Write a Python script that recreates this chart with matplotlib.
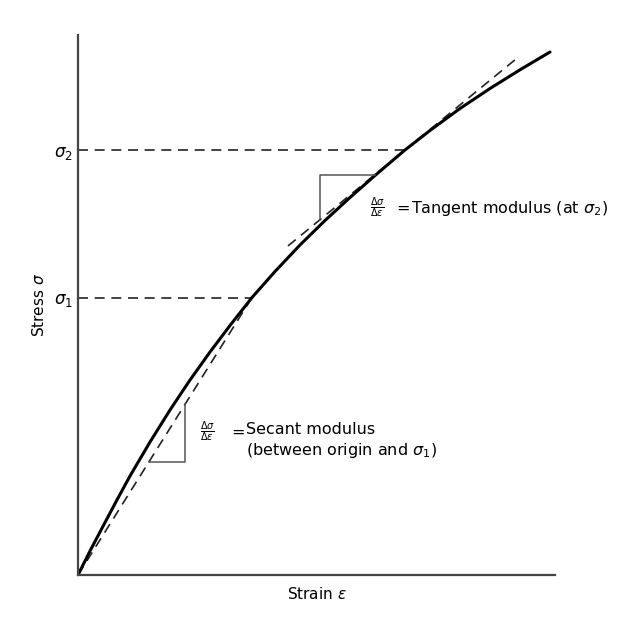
import matplotlib
matplotlib.use("Agg")
import matplotlib.pyplot as plt
import numpy as np

# stress-strain curve (arbitrary units)
strain = [0, 0.12, 0.27, 0.40, 0.52, 0.72, 0.92, 1.12, 1.32, 1.52, 1.74,
          1.97, 2.22, 2.47, 2.72, 2.97, 3.27, 3.52, 3.82, 4.12, 4.42, 4.72]
stress = [0, 0.24, 0.525, 0.77, 0.99, 1.33, 1.65, 1.95, 2.23, 2.495, 2.775,
          3.035, 3.30, 3.545, 3.775, 3.995, 4.25, 4.445, 4.665, 4.865, 5.052, 5.23]

eps1, sigma1 = 1.74, 2.775     # secant point
eps2, sigma2 = 3.27, 4.25      # tangent point
tangent_slope = 0.82
tangent_span = [2.10, 4.40]    # strain range of the dashed tangent

tick_labels = [r"$\sigma_1$", r"$\sigma_2$"]

fig = plt.figure(figsize=(6.29, 6.19), dpi=100)
ax = fig.add_axes([78 / 629, 44 / 619, 477 / 629, 540 / 619])
ax.set_xlim(0, 4.77)
ax.set_ylim(0, 5.40)

for side in ["top", "right"]:
    ax.spines[side].set_visible(False)
for side in ["left", "bottom"]:
    ax.spines[side].set_color("#444444")
    ax.spines[side].set_linewidth(1.6)

ax.set_xticks([])
ax.set_yticks([sigma1, sigma2])
ax.set_yticklabels(tick_labels, fontsize=12)
ax.tick_params(axis="y", length=0, pad=4)

ax.set_xlabel(r"Strain $\epsilon$", fontsize=11, labelpad=8)
ax.set_ylabel(r"Stress $\sigma$", fontsize=11, labelpad=5)

dash = dict(color="#222222", lw=1.2, linestyle=(0, (6, 4)))

# guide lines to the two stress levels
ax.plot([0, eps1], [sigma1, sigma1], **dash)
ax.plot([0, eps2], [sigma2, sigma2], **dash)

# secant from origin
ax.plot([0, eps1], [0, sigma1], **dash)

# tangent at sigma2
tx = np.array(tangent_span)
ax.plot(tx, sigma2 + tangent_slope * (tx - eps2), **dash)

# main curve
ax.plot(strain, stress, color="black", lw=2.2, solid_capstyle="round",
        solid_joinstyle="round")

# little slope triangles
secant_slope = sigma1 / eps1
s_lo, s_right = 1.13, 1.07
ax.plot([s_lo / secant_slope, s_right, s_right],
        [s_lo, s_lo, secant_slope * s_right], color="#555555", lw=1.1)

t_left, t_top = 2.42, 4.00
ax.plot([t_left, t_left, eps2 - (sigma2 - t_top) / tangent_slope],
        [sigma2 + tangent_slope * (t_left - eps2), t_top, t_top],
        color="#555555", lw=1.1)

frac = r"$\frac{\Delta\sigma}{\Delta\epsilon}$"
ax.text(2.92, 3.67, frac, fontsize=10, ha="left", va="center")
ax.text(3.18, 3.67, "=", fontsize=11.5, ha="left", va="center")
ax.text(3.33, 3.67, r"Tangent modulus (at $\sigma_2$)", fontsize=11.5,
        ha="left", va="center", clip_on=False)

ax.text(1.22, 1.43, frac, fontsize=10, ha="left", va="center")
ax.text(1.53, 1.43, "=", fontsize=11.5, ha="left", va="center")
ax.text(1.68, 1.34, "Secant modulus\n(between origin and $\\sigma_1$)",
        fontsize=11.5, ha="left", va="center", linespacing=1.25)

fig.savefig("out.png", dpi=100)
